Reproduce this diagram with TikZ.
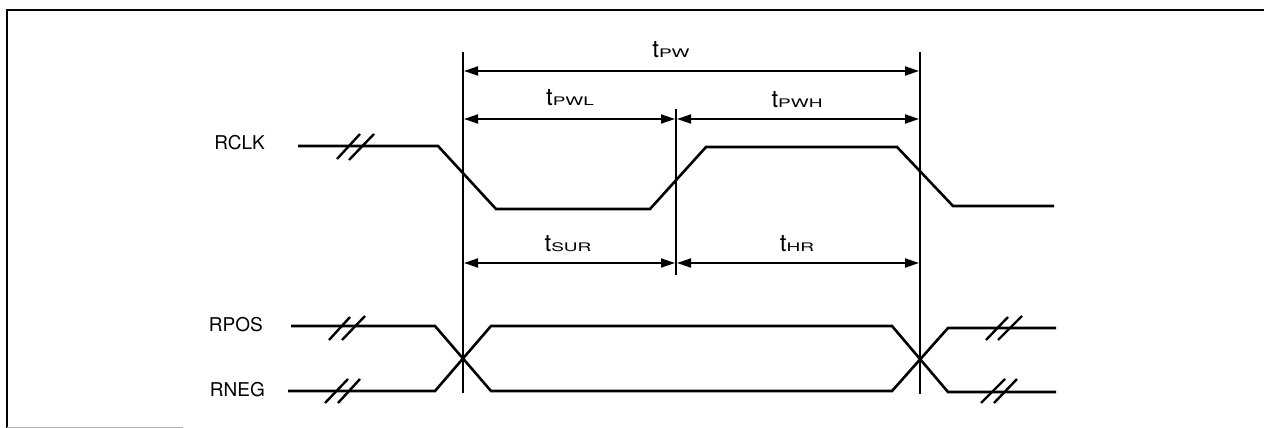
\documentclass[tikz,border=0pt]{standalone}
\usepackage{fontspec}
\usepackage{graphicx}
\setmainfont{TeX Gyre Heros}
\usetikzlibrary{arrows.meta}
\newcommand\tlab[1]{{\fontsize{24}{24}\selectfont t}\scalebox{1}[0.62]{\fontsize{19}{19}\selectfont #1}}
\tikzset{
  sig/.style={line width=2.6pt, line join=miter},
  vline/.style={line width=2.4pt},
  midline/.style={line width=1.9pt},
  dim/.style={line width=1.9pt, {Triangle[length=14pt,width=9pt]}-{Triangle[length=14pt,width=9pt]}, shorten <=1pt, shorten >=1pt},
  brk/.style={line width=2.4pt},
  frame/.style={line width=2.2pt},
  tlbl/.style={inner sep=0pt, anchor=base},
  slbl/.style={inner sep=0pt, anchor=base east, font=\fontsize{19}{19}\selectfont}
}
\begin{document}
\begin{tikzpicture}[x=1pt,y=-1pt]
\useasboundingbox (0,0) rectangle (1264,428);
% frame
\draw[frame] (7,428) -- (7,10) -- (1264,10);
\draw[gray!60, line width=1pt] (7,427) -- (183,427);

% signal labels
\node[slbl] (rclk) at (265,149) {RCLK};
\node[slbl] (rpos) at (263,331) {RPOS};
\node[slbl] (rneg) at (265,396) {RNEG};

% reference vertical lines
\coordinate (vLt) at (463,52);  \coordinate (vLb) at (463,393);
\coordinate (vRt) at (920,52);  \coordinate (vRb) at (920,394);
\coordinate (vMt) at (676,109); \coordinate (vMb) at (676,275);
\draw[vline] (vLt) -- (vLb);
\draw[vline] (vRt) -- (vRb);
\draw[midline] (vMt) -- (vMb);

% dimension arrows
\coordinate (pwL) at (463,71);  \coordinate (pwR) at (920,71);
\coordinate (a1) at (463,119);  \coordinate (a2) at (676,119); \coordinate (a3) at (920,119);
\coordinate (b1) at (463,263);  \coordinate (b2) at (676,263); \coordinate (b3) at (920,263);
\draw[dim] (pwL) -- (pwR);
\draw[dim] (a1) -- (a2);
\draw[dim] (a2) -- (a3);
\draw[dim] (b1) -- (b2);
\draw[dim] (b2) -- (b3);

\node[tlbl] (tpw)  at (671,58)  {\tlab{PW}};
\node[tlbl] (tpwl) at (570,106) {\tlab{PWL}};
\node[tlbl] (tpwh) at (797,107) {\tlab{PWH}};
\node[tlbl] (tsur) at (568,251) {\tlab{SUR}};
\node[tlbl] (thr)  at (797,251) {\tlab{HR}};

% RCLK waveform
\draw[sig] (298,146) -- (438,146) -- (496,209) -- (650,209) -- (706,147) -- (897,147) -- (953,206) -- (1054,206);
\draw[brk] (337,159) -- (360,134);
\draw[brk] (349,160) -- (374,134);

% RPOS / RNEG waveforms
\draw[sig] (291,326) -- (435,326) -- (491,391) -- (892,391) -- (948,328) -- (1056,328);
\draw[sig] (288,391) -- (435,391) -- (491,326) -- (892,326) -- (948,392) -- (1056,392);
\draw[brk] (329,340) -- (350,317);
\draw[brk] (342,340) -- (365,316);
\draw[brk] (325,403) -- (348,379);
\draw[brk] (338,403) -- (360,379);
\draw[brk] (986,340) -- (1008,317);
\draw[brk] (998,340) -- (1022,316);
\draw[brk] (981,403) -- (1005,379);
\draw[brk] (994,403) -- (1017,379);
\end{tikzpicture}
\end{document}
